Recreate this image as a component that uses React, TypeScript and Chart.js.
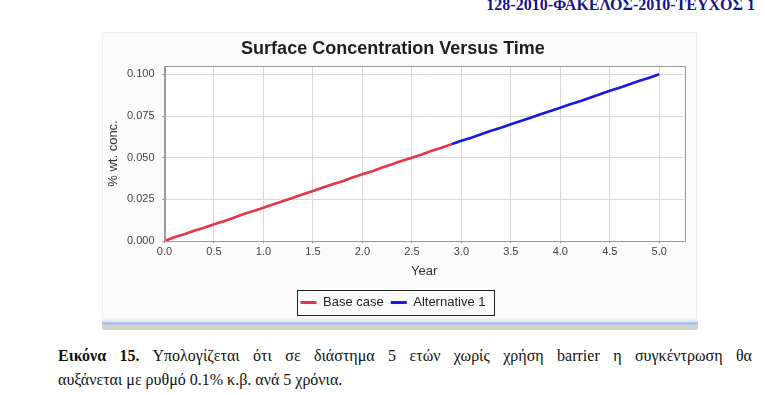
import React, { useEffect, useRef } from "react";
import { Chart, registerables } from "chart.js";

Chart.register(...registerables);

const chartTitle = "Surface Concentration Versus Time";
const xAxisTitle = "Year";
const yAxisTitle = "% wt. conc.";
const baseLabel = "Base case";
const altLabel = "Alternative 1";

const baseYears = [0.0, 0.1, 0.2, 0.3, 0.4, 0.5, 0.6, 0.7, 0.8, 0.9, 1.0, 1.1, 1.2, 1.3, 1.4, 1.5, 1.6, 1.7, 1.8, 1.9, 2.0, 2.1, 2.2, 2.3, 2.4, 2.5, 2.6, 2.7, 2.8, 2.9];
const baseValues = [0.0, 0.0022, 0.0041, 0.0061, 0.008, 0.0101, 0.0119, 0.014, 0.0162, 0.018, 0.0199, 0.0221, 0.024, 0.0259, 0.0281, 0.03, 0.0321, 0.034, 0.0359, 0.0381, 0.04, 0.0419, 0.0441, 0.046, 0.0481, 0.05, 0.0519, 0.0541, 0.056, 0.058];
const altYears = [2.9, 3.0, 3.1, 3.2, 3.3, 3.4, 3.5, 3.6, 3.7, 3.8, 3.9, 4.0, 4.1, 4.2, 4.3, 4.4, 4.5, 4.6, 4.7, 4.8, 4.9, 5.0];
const altValues = [0.058, 0.0601, 0.0619, 0.064, 0.0661, 0.0679, 0.0701, 0.072, 0.0739, 0.0761, 0.078, 0.08, 0.0821, 0.0839, 0.086, 0.088, 0.0901, 0.092, 0.094, 0.0961, 0.098, 0.1];

const xTickValues = [0.0, 0.5, 1.0, 1.5, 2.0, 2.5, 3.0, 3.5, 4.0, 4.5, 5.0];
const yTickValues = [0.0, 0.025, 0.05, 0.075, 0.1];
const xRange = [0, 5.25];
const yRange = [0, 0.105];

const headerText = "128-2010-ΦΑΚΕΛΟΣ-2010-ΤΕΥΧΟΣ 1";
const captionBold = "Εικόνα 15.";
const captionLine1 = " Υπολογίζεται ότι σε διάστημα 5 ετών χωρίς χρήση barrier η συγκέντρωση θα";
const captionLine2 = "αυξάνεται με ρυθμό 0.1% κ.β. ανά 5 χρόνια.";

const framePlugin = {
  id: "frameBoxes",
  beforeDraw(chart: any) {
    const { ctx, chartArea: a } = chart;
    ctx.save();
    ctx.fillStyle = "#ffffff";
    ctx.fillRect(a.left, a.top, a.right - a.left, a.bottom - a.top);
    ctx.restore();
  },
  afterDatasetsDraw(chart: any) {
    const { ctx, chartArea: a } = chart;
    ctx.save();
    ctx.strokeStyle = "#9a9a9a";
    ctx.lineWidth = 1;
    ctx.strokeRect(Math.round(a.left) + 0.5, Math.round(a.top) + 0.5, Math.round(a.right - a.left), Math.round(a.bottom - a.top));
    ctx.restore();
  },
  afterDraw(chart: any) {
    const { ctx, legend } = chart;
    const hb = legend && legend.legendHitBoxes;
    if (!hb || !hb.length) return;
    const l = Math.min(...hb.map((h: any) => h.left));
    const r = Math.max(...hb.map((h: any) => h.left + h.width));
    const cy = hb[0].top + hb[0].height / 2;
    ctx.save();
    ctx.strokeStyle = "#222222";
    ctx.lineWidth = 1;
    ctx.strokeRect(Math.round(l - 4) + 0.5, Math.round(cy - 12.5) + 0.5, Math.round(r - l + 12), 25);
    ctx.restore();
  },
};

function ChartCanvas() {
  const ref = useRef<HTMLCanvasElement | null>(null);
  useEffect(() => {
    if (!ref.current) return;
    const font = "Arial, 'Liberation Sans', sans-serif";
    const chart = new Chart(ref.current, {
      type: "scatter",
      data: {
        datasets: [
          {
            label: baseLabel,
            data: baseYears.map((x, i) => ({ x, y: baseValues[i] })),
            showLine: true,
            borderColor: "#e8334c",
            backgroundColor: "#e8334c",
            borderWidth: 2.6,
            pointRadius: 0,
            tension: 0,
          },
          {
            label: altLabel,
            data: altYears.map((x, i) => ({ x, y: altValues[i] })),
            showLine: true,
            borderColor: "#1818e4",
            backgroundColor: "#1818e4",
            borderWidth: 2.6,
            pointRadius: 0,
            tension: 0,
          },
        ],
      },
      plugins: [framePlugin],
      options: {
        animation: false,
        responsive: false,
        maintainAspectRatio: false,
        layout: { padding: { left: 0, right: 8, top: 0, bottom: 0 } },
        plugins: {
          tooltip: { enabled: false },
          title: {
            display: true,
            text: chartTitle,
            color: "#1e1e1e",
            font: { family: font, size: 18, weight: "bold", lineHeight: 1.2 },
            padding: { top: 6.5, bottom: 5.9 },
          },
          legend: {
            display: true,
            position: "bottom",
            labels: {
              boxWidth: 16,
              boxHeight: 3,
              padding: 7,
              color: "#222222",
              font: { family: font, size: 13 },
              generateLabels: (c: any) =>
                c.data.datasets.map((ds: any, i: number) => ({
                  text: ds.label,
                  fillStyle: ds.borderColor,
                  strokeStyle: ds.borderColor,
                  lineWidth: 0,
                  hidden: false,
                  datasetIndex: i,
                  fontColor: "#222222",
                })),
            },
          },
        },
        scales: {
          x: {
            type: "linear",
            min: xRange[0],
            max: xRange[1],
            afterFit: (s: any) => {
              s.height = 48;
            },
            afterBuildTicks: (s: any) => {
              s.ticks = xTickValues.map((v) => ({ value: v }));
            },
            ticks: {
              includeBounds: false,
              padding: 2,
              color: "#444444",
              font: { family: font, size: 11 },
              maxRotation: 0,
              callback: (v: any) => Number(v).toFixed(1),
            },
            grid: {
              color: "#d8d8d8",
              borderDash: [2, 2],
              tickLength: 2,
              tickColor: "#888888",
              tickBorderDash: [],
            },
            border: { display: true, color: "#9a9a9a" },
            title: {
              display: true,
              text: xAxisTitle,
              color: "#333333",
              font: { family: font, size: 13, lineHeight: 1.2 },
              padding: { top: 0, bottom: 9.7 },
            },
          },
          y: {
            type: "linear",
            min: yRange[0],
            max: yRange[1],
            afterFit: (s: any) => {
              s.width = 62.5;
            },
            afterBuildTicks: (s: any) => {
              s.ticks = yTickValues.map((v) => ({ value: v }));
            },
            ticks: {
              includeBounds: false,
              padding: 8,
              color: "#444444",
              font: { family: font, size: 11 },
              callback: (v: any) => Number(v).toFixed(3),
            },
            grid: {
              color: "#d8d8d8",
              borderDash: [2, 2],
              tickLength: 2,
              tickColor: "#888888",
              tickBorderDash: [],
            },
            border: { display: true, color: "#9a9a9a" },
            title: {
              display: true,
              text: yAxisTitle,
              color: "#333333",
              font: { family: font, size: 13, lineHeight: 1.2 },
              padding: { top: 3.2, bottom: 0 },
            },
          },
        },
      } as any,
    });
    return () => chart.destroy();
  }, []);
  return <canvas ref={ref} width={590} height={287} style={{ position: "absolute", left: 102, top: 32, width: 590, height: 287 }} />;
}

export default function App() {
  return (
    <div style={{ position: "absolute", left: 0, top: 0, width: 765, height: 395, background: "#ffffff", overflow: "hidden" }}>
      <div
        style={{
          position: "absolute",
          right: 10,
          top: -3,
          fontFamily: "'Times New Roman', 'Liberation Serif', serif",
          fontWeight: "bold",
          fontSize: 16,
          lineHeight: "16px",
          color: "#16168a",
          whiteSpace: "nowrap",
        }}
      >
        {headerText}
      </div>
      <div
        style={{
          position: "absolute",
          left: 102,
          top: 32,
          width: 595,
          height: 286,
          background: "#fbfbfb",
          borderTop: "1px solid #eeeeee",
          borderLeft: "1px solid #f0f0f0",
          borderRight: "1px solid #eaeaea",
          boxSizing: "border-box",
        }}
      />
      <ChartCanvas />
      <div style={{ position: "absolute", left: 102, top: 318, width: 596, height: 4, background: "linear-gradient(#f3f4f8, #dfe5f3)" }} />
      <div style={{ position: "absolute", left: 102, top: 322, width: 596, height: 3, background: "#b4c3ea" }} />
      <div style={{ position: "absolute", left: 102, top: 325, width: 596, height: 5, background: "#d5d2c6" }} />
      <div
        style={{
          position: "absolute",
          left: 58,
          top: 344,
          width: 694,
          fontFamily: "'Times New Roman', 'Liberation Serif', serif",
          fontSize: 16,
          lineHeight: "24px",
          color: "#111111",
        }}
      >
        <div style={{ textAlign: "justify", textAlignLast: "justify", whiteSpace: "nowrap" as any }}>
          <b>{captionBold}</b>
          {captionLine1}
        </div>
        <div style={{ textAlign: "left" }}>{captionLine2}</div>
      </div>
    </div>
  );
}
